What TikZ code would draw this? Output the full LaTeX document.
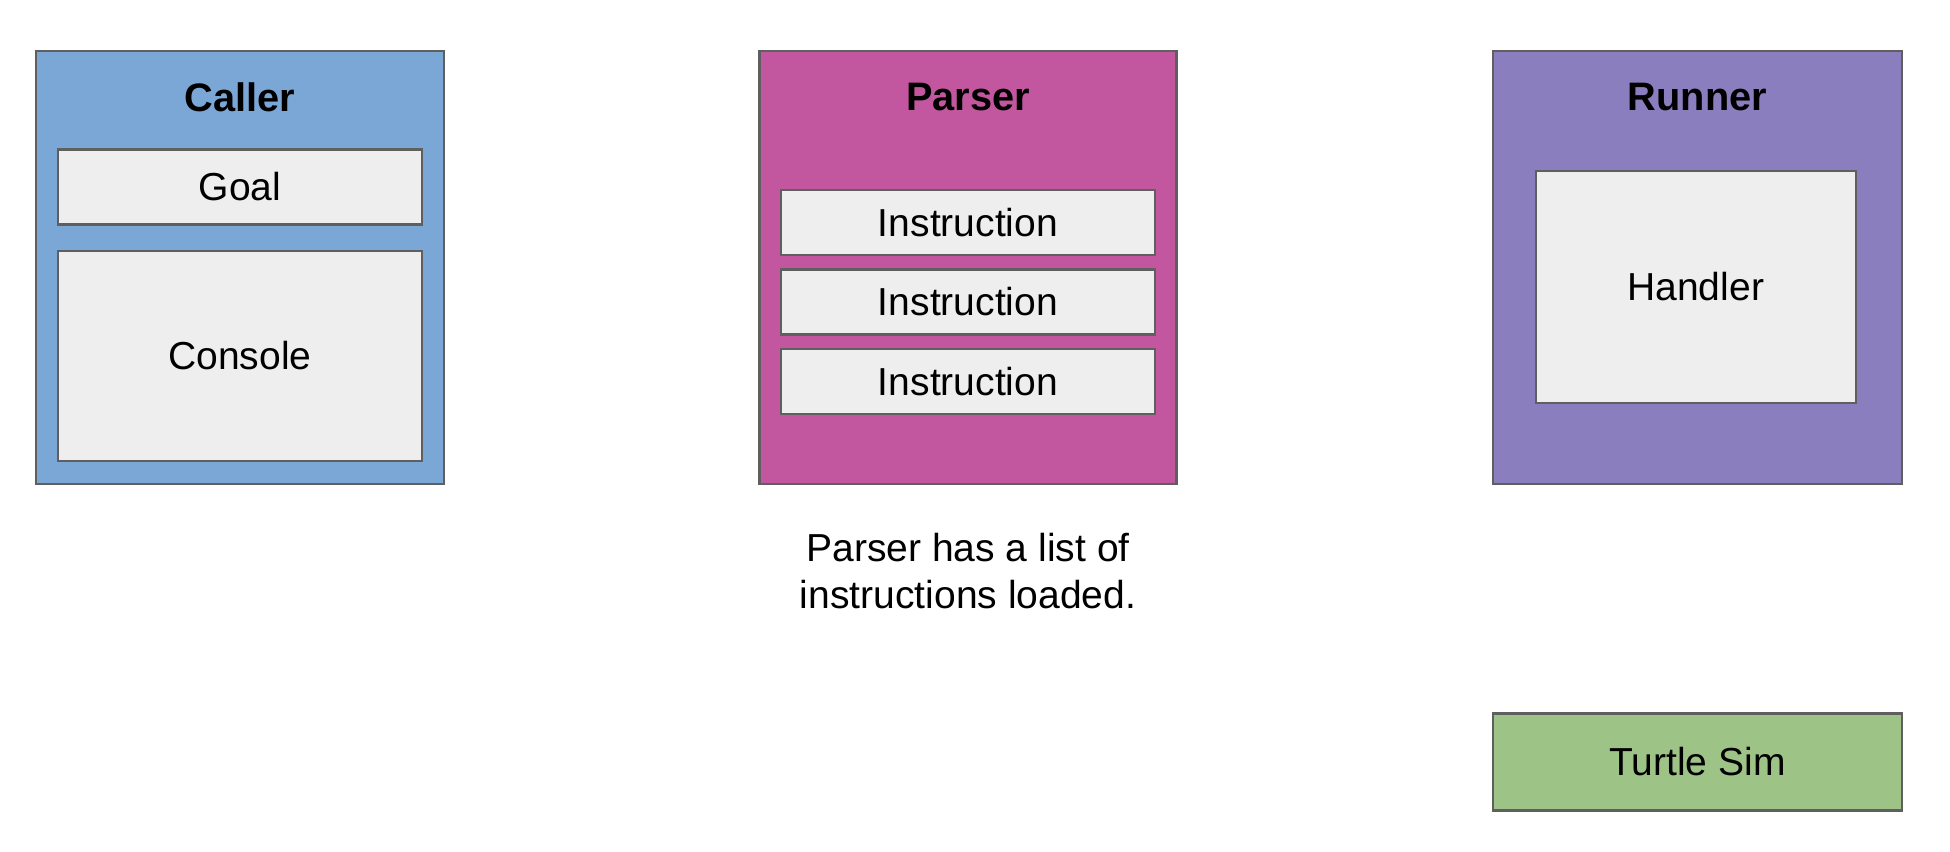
\documentclass[tikz,border=0pt]{standalone}
\usepackage{fontspec}
\setmainfont{Liberation Sans}
\usetikzlibrary{positioning}
\definecolor{callerblue}{HTML}{7BA7D7}
\definecolor{parserpink}{HTML}{C2579F}
\definecolor{runnerpurple}{HTML}{8B7EBE}
\definecolor{simgreen}{HTML}{9DC386}
\definecolor{partgray}{HTML}{EEEEEE}
\definecolor{linegray}{HTML}{5F5F5F}
\tikzset{
  every node/.style = {font = \fontsize{11.1}{13.2}\selectfont}
}
\tikzset{
  outer box/.style = {draw=linegray, line width=0.6pt, inner sep=0pt},
  part box/.style = {draw=linegray, fill=partgray, line width=0.6pt, inner sep=0pt},
  box title/.style = {font = \fontsize{11.3}{13.2}\selectfont\bfseries}
}

\begin{document}
\begin{tikzpicture}[x=0.01cm, y=-0.01cm]
  \useasboundingbox (0,0) rectangle (1950,852);

  % Caller
  \node[outer box, fill=callerblue, minimum width=4.085cm, minimum height=4.33cm]
    (caller) at (240,267.5) {};
  \node[box title] (callertitle) at (240,97) {Caller};
  \node[part box, minimum width=3.63cm, minimum height=0.75cm]
    (goal) at (240,187) {Goal};
  \node[part box, minimum width=3.63cm, minimum height=2.09cm]
    (console) at (240,356) {Console};

  % Parser
  \node[outer box, fill=parserpink, minimum width=4.167cm, minimum height=4.33cm]
    (parser) at (968,267.5) {};
  \node[box title] (parsertitle) at (968,97) {Parser};
  \foreach \i/\y in {1/222.5, 2/302, 3/381.5} {
    \node[part box, minimum width=3.74cm, minimum height=0.65cm]
      (instr\i) at (968,\y) {Instruction};
  }
  \node[align=center, below=0.36cm of parser] (note)
    {Parser has a list of\\instructions loaded.};

  % Runner
  \node[outer box, fill=runnerpurple, minimum width=4.08cm, minimum height=4.33cm]
    (runner) at (1697.5,267.5) {};
  \node[box title] (runnertitle) at (1697.5,97) {Runner};
  \node[part box, minimum width=3.196cm, minimum height=2.325cm]
    (handler) at (1695.7,287) {Handler};

  % Turtle Sim
  \node[outer box, fill=simgreen, minimum width=4.08cm, minimum height=0.97cm]
    (turtlesim) at (1697.5,762) {Turtle Sim};
\end{tikzpicture}
\end{document}
